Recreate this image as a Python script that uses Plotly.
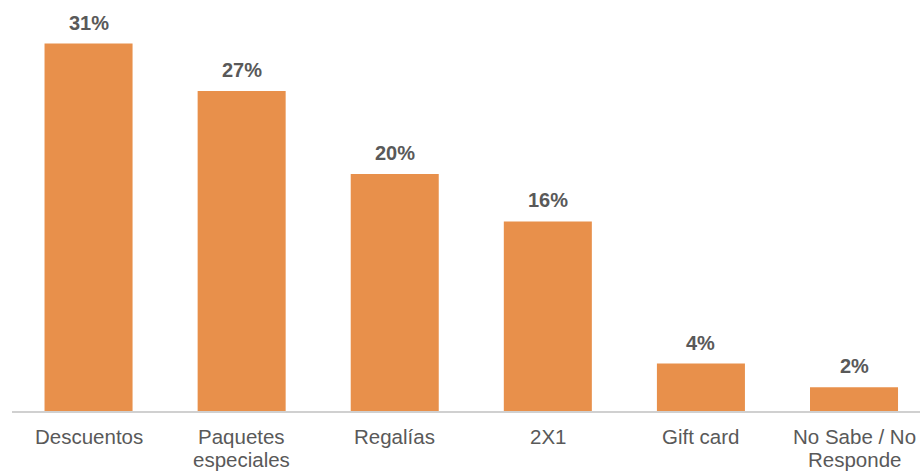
import plotly.graph_objects as go

categories = ["Descuentos", "Paquetes\nespeciales", "Regalías", "2X1", "Gift card", "No Sabe / No\nResponde"]
values = [31, 27, 20, 16, 4, 2]
value_labels = [f"{v}%" for v in values]

BAR_COLOR = "#E8904B"
TEXT_COLOR = "#595959"
FONT = "Liberation Sans, Arial, sans-serif"
LABEL_SIZE = 20.5
LINE_STEP = 23  # px between wrapped category-label lines

fig = go.Figure()
fig.add_trace(go.Bar(
    x=list(range(len(categories))),
    y=values,
    marker=dict(color=BAR_COLOR, line=dict(width=0)),
    width=0.575,
    hoverinfo="skip",
))

# value labels above each bar
for i, (v, lab) in enumerate(zip(values, value_labels)):
    fig.add_annotation(
        x=i, y=v, text=f"<b>{lab}</b>", showarrow=False,
        yanchor="bottom", yshift=8,
        font=dict(family=FONT, size=20, color=TEXT_COLOR),
    )

# category labels under the axis, wrapped with a tight line spacing
for i, cat in enumerate(categories):
    for j, line in enumerate(cat.split("\n")):
        fig.add_annotation(
            x=i, xref="x", y=0, yref="paper", text=line, showarrow=False,
            yanchor="middle", yshift=-25 - j * LINE_STEP,
            font=dict(family=FONT, size=LABEL_SIZE, color=TEXT_COLOR),
        )

fig.update_layout(
    width=920, height=471,
    margin=dict(l=12, r=0, t=0, b=60, autoexpand=False),
    paper_bgcolor="white", plot_bgcolor="white",
    showlegend=False,
    xaxis=dict(
        range=[-0.5, 5.431], showticklabels=False,
        showgrid=False, zeroline=False, automargin=False,
        showline=True, linecolor="#D0D0D0", linewidth=1.5,
        ticks="",
    ),
    yaxis=dict(
        range=[0, 34.68], visible=False, showgrid=False, zeroline=False,
    ),
)

fig.write_html("out.html")
